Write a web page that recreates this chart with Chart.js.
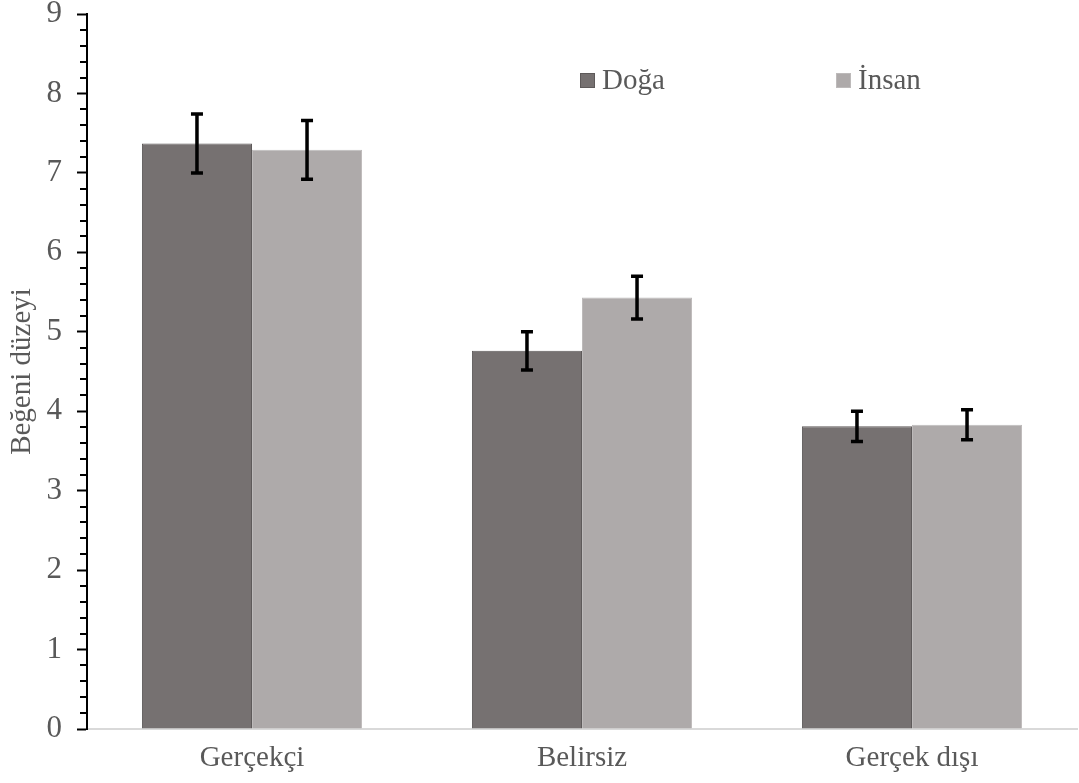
<!DOCTYPE html>
<html>
<head>
<meta charset="utf-8">
<script src="https://cdn.jsdelivr.net/npm/chart.js@4/dist/chart.umd.min.js"></script>
<style>
  html, body { margin: 0; padding: 0; background: #fff; }
  #wrap { width: 1079px; height: 783px; position: relative; }
</style>
</head>
<body>
<div id="wrap"><canvas id="barChart"></canvas></div>
<script>
var categories = ['Gerçekçi', 'Belirsiz', 'Gerçek dışı'];
var seriesNames = ['Doğa', 'İnsan'];
var dogaValues = [7.37, 4.76, 3.81];
var insanValues = [7.29, 5.43, 3.83];
var dogaErr = [0.37, 0.24, 0.19];
var insanErr = [0.37, 0.27, 0.19];
var yTicks = [0, 1, 2, 3, 4, 5, 6, 7, 8, 9];

var FONT = "'Liberation Serif', 'Times New Roman', serif";
var TEXT = '#595959';

// error bars + minor ticks + legend
var extras = {
  id: 'extras',
  afterDatasetsDraw: function(chart) {
    var ctx = chart.ctx;
    var y = chart.scales.y;
    var errs = [dogaErr, insanErr];
    ctx.save();
    ctx.strokeStyle = '#000';
    ctx.lineWidth = 3.5;
    chart.data.datasets.forEach(function(ds, di) {
      var meta = chart.getDatasetMeta(di);
      meta.data.forEach(function(bar, i) {
        var v = ds.data[i], e = errs[di][i];
        var top = y.getPixelForValue(v + e), bot = y.getPixelForValue(v - e);
        ctx.beginPath();
        ctx.moveTo(bar.x, top); ctx.lineTo(bar.x, bot);
        ctx.moveTo(bar.x - 6, top); ctx.lineTo(bar.x + 6, top);
        ctx.moveTo(bar.x - 6, bot); ctx.lineTo(bar.x + 6, bot);
        ctx.stroke();
      });
    });
    ctx.restore();
  },
  afterDraw: function(chart) {
    var ctx = chart.ctx;
    var y = chart.scales.y;
    var x0 = chart.chartArea.left;
    ctx.save();
    ctx.strokeStyle = '#000';
    ctx.lineWidth = 2;
    for (var k = 0; k <= 45; k++) {
      if (k % 5 === 0) continue;
      var py = Math.round(y.getPixelForValue(k / 5));
      ctx.beginPath();
      ctx.moveTo(x0 - 7, py); ctx.lineTo(x0, py);
      ctx.stroke();
    }
    // legend
    var lx = [580, 836];
    var colors = [['#767171', '#5e5a5a'], ['#aeaaaa', '#bdbaba']];
    ctx.font = '29px ' + FONT;
    ctx.textBaseline = 'middle';
    seriesNames.forEach(function(name, i) {
      ctx.fillStyle = colors[i][0];
      ctx.fillRect(lx[i], 73, 15, 15);
      ctx.strokeStyle = colors[i][1];
      ctx.lineWidth = 1;
      ctx.strokeRect(lx[i] + 0.5, 73.5, 14, 14);
      ctx.fillStyle = TEXT;
      ctx.fillText(name, lx[i] + 22, 81);
    });
    ctx.restore();
  }
};

new Chart(document.getElementById('barChart'), {
  type: 'bar',
  data: {
    labels: categories,
    datasets: [
      { label: seriesNames[0], data: dogaValues, backgroundColor: '#767171', borderColor: '#5e5a5a', borderWidth: 1,
        categoryPercentage: 0.667, barPercentage: 1.0 },
      { label: seriesNames[1], data: insanValues, backgroundColor: '#aeaaaa', borderColor: '#bdbaba', borderWidth: 1,
        categoryPercentage: 0.667, barPercentage: 1.0 }
    ]
  },
  options: {
    responsive: true,
    maintainAspectRatio: false,
    animation: false,
    layout: { padding: { top: 14, right: 2, left: 5, bottom: 0 } },
    plugins: { legend: { display: false }, tooltip: { enabled: false } },
    scales: {
      x: {
        grid: { display: false, drawTicks: false },
        border: { color: '#d9d9d9', width: 2 },
        ticks: { color: TEXT, font: { family: FONT, size: 29 }, padding: 12 },
        afterFit: function(s) { s.height = 54; s.paddingLeft = 0; s.paddingRight = 0; }
      },
      y: {
        min: 0, max: 9,
        afterBuildTicks: function(s) { s.ticks = yTicks.map(function(v) { return { value: v }; }); },
        grid: { drawOnChartArea: false, drawTicks: true, tickLength: 10, tickWidth: 2, tickColor: '#000' },
        border: { color: '#000', width: 2 },
        ticks: { color: TEXT, font: { family: FONT, size: 31 }, padding: 15 },
        title: { display: true, text: 'Beğeni düzeyi', color: TEXT, font: { family: FONT, size: 29 }, padding: 0 },
        afterFit: function(s) { s.width = 82; s.paddingTop = 0; s.paddingBottom = 0; }
      }
    }
  },
  plugins: [extras]
});
</script>
</body>
</html>
